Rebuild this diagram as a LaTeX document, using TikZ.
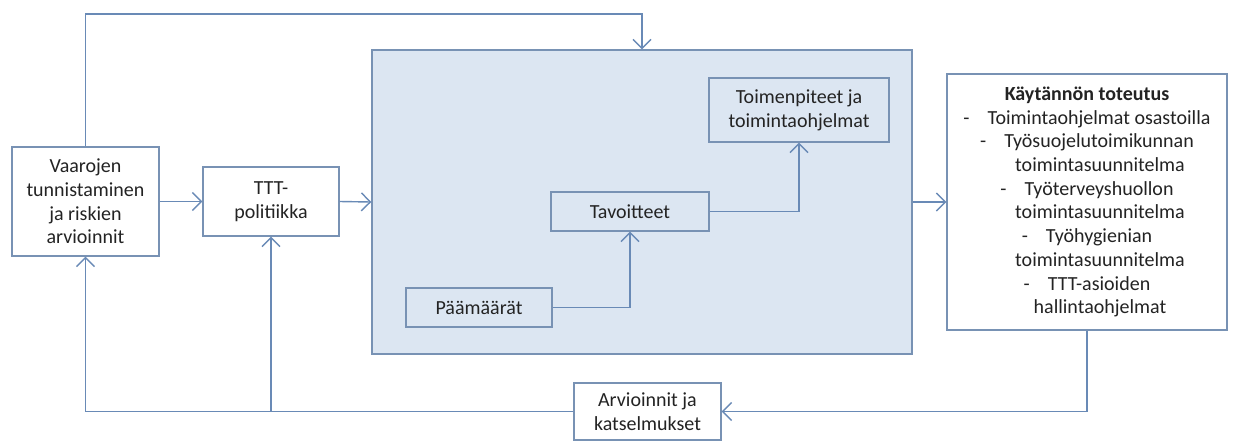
\documentclass[tikz,border=0pt]{standalone}
\usepackage{fontspec}
\setmainfont{Carlito}
\usetikzlibrary{arrows.meta}
\definecolor{lnc}{RGB}{105,138,182}
\definecolor{bxc}{RGB}{120,146,180}
\definecolor{bfill}{RGB}{220,230,242}
\definecolor{txt}{RGB}{35,35,35}
\tikzset{
  bx/.style={draw=bxc, line width=1.4pt, fill=white, align=center, inner sep=0pt,
    text=txt, font=\fontsize{20}{23.7}\selectfont},
  inbx/.style={bx, fill=bfill},
  conn/.style={draw=lnc, line width=1.4pt},
  arr/.style={conn, -{Straight Barb[length=9pt,width=18pt,line width=1.4pt]}},
}
\begin{document}
\begin{tikzpicture}[x=1pt,y=-1pt]
\useasboundingbox (0,0) rectangle (1234,440);
\node[bx, minimum width=540pt, minimum height=304pt, fill=bfill] (big) at (642,202) {};
\node[bx, minimum width=147pt, minimum height=109pt] (vaar) at (85.5,201.5) {Vaarojen\\tunnistaminen\\ja riskien\\arvioinnit};
\node[bx, minimum width=136pt, minimum height=69pt] (ttt) at (271,201.5) {TTT-\\politiikka};
\node[inbx, minimum width=146pt, minimum height=39pt] (paa) at (479,307.5) {Päämäärät};
\node[inbx, minimum width=158pt, minimum height=39pt] (tav) at (630,211.5) {Tavoitteet};
\node[inbx, minimum width=180pt, minimum height=64pt] (toim) at (799,110) {Toimenpiteet ja\\toimintaohjelmat};
\node[bx, minimum width=280pt, minimum height=256pt] (kay) at (1087,202) {\textbf{Käytännön toteutus}\\
-\hspace{0.9em}Toimintaohjelmat osastoilla\\
-\hspace{0.9em}Työsuojelutoimikunnan\\
\hspace{1.3em}toimintasuunnitelma\\
-\hspace{0.9em}Työterveyshuollon\\
\hspace{1.3em}toimintasuunnitelma\\
-\hspace{0.9em}Työhygienian\\
\hspace{1.3em}toimintasuunnitelma\\
-\hspace{0.9em}TTT-asioiden\\
\hspace{1.3em}hallintaohjelmat};
\node[bx, minimum width=147pt, minimum height=57pt] (arv) at (647.5,411.5) {Arvioinnit ja\\katselmukset};
\coordinate (tl) at (85.5,14);
\coordinate (tr) at (642,14);
\draw[arr] (vaar.north) -- (tl) -- (tr) -- (big.north);
\draw[arr] (vaar.east) -- (ttt.west);
\draw[arr] (ttt.east) -- (big.west);
\draw[arr] (paa.east) -| (tav.south);
\draw[arr] (tav.east) -| (toim.south);
\draw[arr] (big.east |- kay.west) -- (kay.west);
\draw[arr] (kay.south) |- (arv.east);
\draw[arr] (arv.west) -| (vaar.south);
\coordinate (br) at (ttt.south |- arv.west);
\draw[arr] (br) -- (ttt.south);
\end{tikzpicture}
\end{document}
